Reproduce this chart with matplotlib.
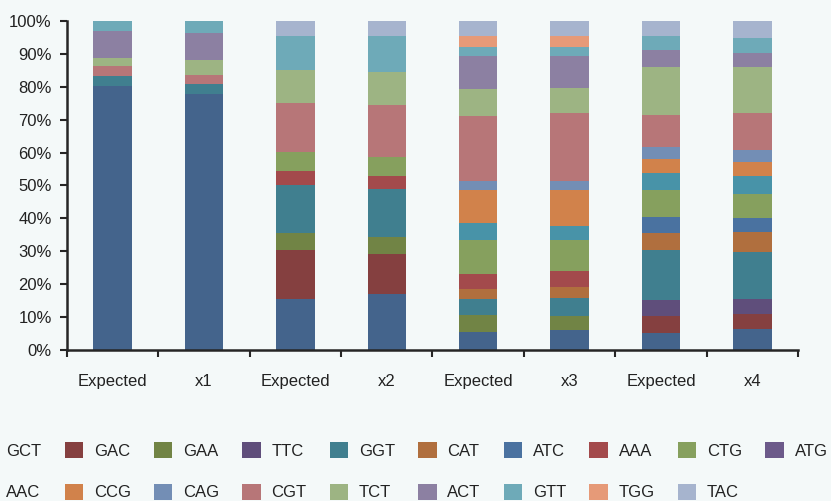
import matplotlib
matplotlib.use("Agg")
import matplotlib.pyplot as plt
import numpy as np

plt.rcParams['font.family'] = ['Liberation Sans', 'DejaVu Sans']

# categories (bars) and codon series, bottom to top
categories = ['Expected', 'x1', 'Expected', 'x2', 'Expected', 'x3', 'Expected', 'x4']
codons = ['GCT', 'GAC', 'GAA', 'TTC', 'GGT', 'CAT', 'ATC', 'AAA', 'CTG', 'ATG',
          'AAC', 'CCG', 'CAG', 'CGT', 'TCT', 'ACT', 'GTT', 'TGG', 'TAC']

GCT = [79.4, 77.3, 15.3, 16.9, 5.3, 5.9, 5.0, 6.5]
GAC = [0, 0, 15.0, 12.1, 0, 0, 5.3, 4.3]
GAA = [0, 0, 4.9, 5.2, 5.2, 4.3, 0, 0]
TTC = [0, 0, 0, 0, 0, 0, 4.8, 4.6]
GGT = [3.0, 3.0, 14.8, 14.4, 4.9, 5.6, 15.2, 14.3]
CAT = [0, 0, 0, 0, 3.1, 3.2, 5.0, 6.1]
ATC = [0, 0, 0, 0, 0, 0, 5.1, 4.3]
AAA = [0, 0, 4.0, 3.9, 4.5, 4.9, 0, 0]
CTG = [0, 0, 5.8, 5.9, 10.3, 9.4, 7.9, 7.0]
ATG = [0, 0, 0, 0, 0, 0, 0, 0]
AAC = [0, 0, 0, 0, 5.0, 4.0, 5.3, 5.5]
CCG = [0, 0, 0, 0, 9.9, 10.9, 4.3, 4.3]
CAG = [0, 0, 0, 0, 2.8, 2.8, 3.6, 3.6]
CGT = [3.1, 2.7, 14.9, 15.7, 19.5, 20.6, 9.6, 11.2]
TCT = [2.6, 4.3, 10.0, 10.0, 8.4, 7.6, 14.6, 14.0]
ACT = [7.9, 8.2, 0, 0, 9.7, 9.4, 5.2, 4.3]
GTT = [3.1, 3.7, 10.3, 10.9, 2.7, 2.7, 4.3, 4.3]
TGG = [0, 0, 0, 0, 3.6, 3.6, 0, 0]
TAC = [0, 0, 4.4, 4.4, 4.4, 4.4, 4.4, 5.3]

series = [GCT, GAC, GAA, TTC, GGT, CAT, ATC, AAA, CTG, ATG,
          AAC, CCG, CAG, CGT, TCT, ACT, GTT, TGG, TAC]

colors = ['#44648C', '#854040', '#718445', '#5F4E7B', '#407F8F', '#B06F3E',
          '#4A72A0', '#A34A4C', '#86A05E', '#6C5A8A', '#4893A8', '#D1824B',
          '#738EB5', '#B77678', '#9DB483', '#8C80A2', '#6EAAB8', '#E69A78',
          '#A6B4CE']

bg = '#F4F9F9'
data = np.array(series, dtype=float)
data = data / data.sum(axis=0) * 100  # 100% stacked

fig = plt.figure(figsize=(8.31, 5.01), dpi=100, facecolor=bg)
ax = fig.add_axes([0.0806, 0.3014, 0.8797, 0.6567])
ax.set_facecolor(bg)

x = np.arange(len(categories))
bottom = np.zeros(len(categories))
handles = []
for name, vals, c in zip(codons, data, colors):
    h = ax.bar(x, vals, 0.42, bottom=bottom, color=c, label=name, linewidth=0)
    handles.append(h)
    bottom += vals

ax.set_xlim(-0.5, len(categories) - 0.5)
ax.set_ylim(0, 100)
ax.set_yticks(np.arange(0, 101, 10))
ax.set_yticklabels([f'{v}%' for v in range(0, 101, 10)])

# tick marks between categories, labels at centers
ax.set_xticks(np.arange(-0.5, len(categories), 1.0))
ax.set_xticklabels([])
ax.set_xticks(x, minor=True)
ax.set_xticklabels(categories, minor=True)
ax.tick_params(axis='x', which='minor', length=0, pad=17, labelsize=12, colors='#222222')
ax.tick_params(axis='x', which='major', length=5, width=1.5, color='#262626')
ax.tick_params(axis='y', length=5, width=1.5, color='#262626', pad=6,
               labelsize=12, labelcolor='#222222')

for s in ['top', 'right']:
    ax.spines[s].set_visible(False)
for s in ['left', 'bottom']:
    ax.spines[s].set_color('#262626')
    ax.spines[s].set_linewidth(1.8)

# legend: two rows, filled column by column
row1 = codons[:10]
row2 = codons[10:]
order = []
for i in range(10):
    order.append(codons.index(row1[i]))
    if i < len(row2):
        order.append(codons.index(row2[i]))
fig.legend([handles[i] for i in order], [codons[i] for i in order],
           ncol=10, loc='upper left', bbox_to_anchor=(-0.0276, 0.118),
           frameon=False, fontsize=12, handlelength=1.1, handleheight=1.1,
           handletextpad=0.65, columnspacing=1.39, labelspacing=1.5,
           borderpad=0, borderaxespad=0, labelcolor='#222222')

fig.savefig('out.png', dpi=100, facecolor=bg)
